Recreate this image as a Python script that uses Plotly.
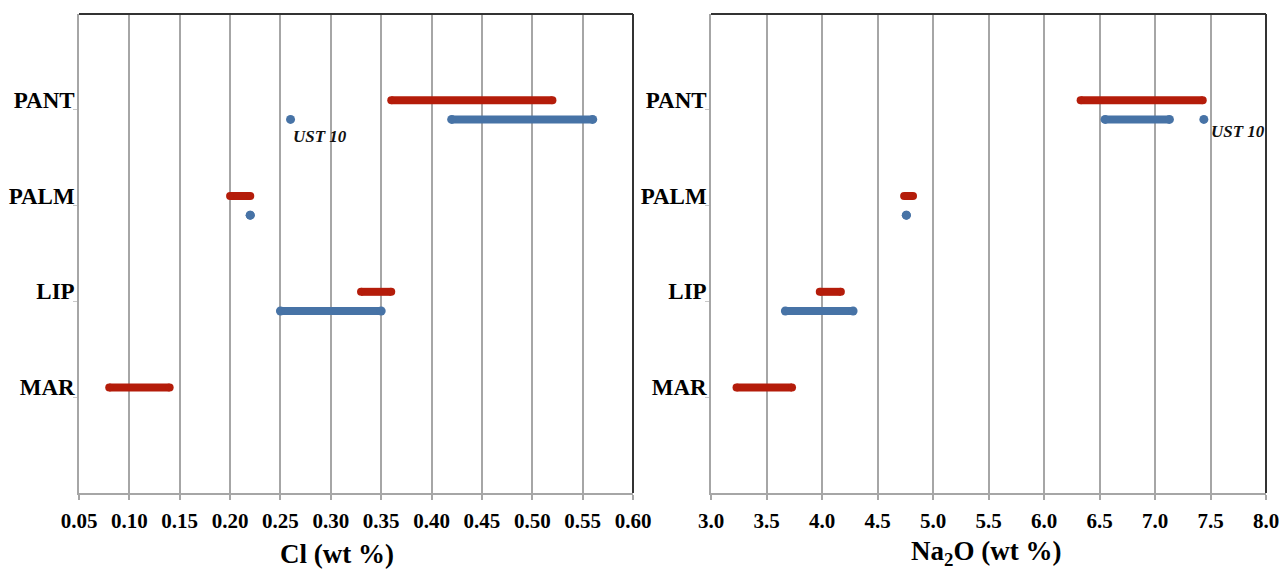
import plotly.graph_objects as go

W, H = 1279, 570

categories = ["MAR", "LIP", "PALM", "PANT"]
cat_pos = [1, 2, 3, 4]

# Cl (wt %) ranges
cl_red_lo = [0.08, 0.33, 0.20, 0.36]
cl_red_hi = [0.14, 0.36, 0.22, 0.52]
cl_blue_lo = [None, 0.25, 0.22, 0.42]
cl_blue_hi = [None, 0.35, 0.22, 0.56]
cl_ust10 = 0.26

# Na2O (wt %) ranges
na_red_lo = [3.23, 3.98, 4.74, 6.33]
na_red_hi = [3.73, 4.17, 4.82, 7.43]
na_blue_lo = [None, 3.67, 4.76, 6.55]
na_blue_hi = [None, 4.28, 4.76, 7.13]
na_ust10 = 7.44

cl_ticks = [0.05, 0.10, 0.15, 0.20, 0.25, 0.30, 0.35, 0.40, 0.45, 0.50, 0.55, 0.60]
na_ticks = [3.0, 3.5, 4.0, 4.5, 5.0, 5.5, 6.0, 6.5, 7.0, 7.5, 8.0]

RED = "#B41C0A"
BLUE = "#4773A6"
GRID = "#A6A6A6"
FONT = "Liberation Serif"
RED_OFF, BLUE_OFF = 0.1, -0.1
LW = 8

def segs(lo, hi, off):
    xs, ys = [], []
    for l, h, p in zip(lo, hi, cat_pos):
        if l is None:
            continue
        xs += [l, h, None]
        ys += [p + off, p + off, None]
    return xs, ys

fig = go.Figure()

for (rlo, rhi, blo, bhi, ust, xa, ya) in [
    (cl_red_lo, cl_red_hi, cl_blue_lo, cl_blue_hi, cl_ust10, "x", "y"),
    (na_red_lo, na_red_hi, na_blue_lo, na_blue_hi, na_ust10, "x2", "y2"),
]:
    bx, by = segs(blo, bhi, BLUE_OFF)
    fig.add_trace(go.Scatter(x=bx, y=by, mode="lines+markers", xaxis=xa, yaxis=ya,
                             line=dict(color=BLUE, width=LW),
                             marker=dict(color=BLUE, size=LW + 1),
                             showlegend=False, hoverinfo="skip"))
    rx, ry = segs(rlo, rhi, RED_OFF)
    fig.add_trace(go.Scatter(x=rx, y=ry, mode="lines+markers", xaxis=xa, yaxis=ya,
                             line=dict(color=RED, width=LW),
                             marker=dict(color=RED, size=LW),
                             showlegend=False, hoverinfo="skip"))
    fig.add_trace(go.Scatter(x=[ust], y=[cat_pos[3] + BLUE_OFF], mode="markers",
                             xaxis=xa, yaxis=ya,
                             marker=dict(color=BLUE, size=LW + 1),
                             showlegend=False, hoverinfo="skip"))

ydom = [(H - 493) / H, (H - 14) / H]
xdom1 = [79 / W, 633 / W]
xdom2 = [711 / W, 1266 / W]

tickfont = dict(family=FONT, size=21, color="black", weight="bold")
catfont = dict(family=FONT, size=23, color="black", weight="bold")

common_x = dict(showgrid=True, gridcolor=GRID, gridwidth=1.5, showline=True,
                linecolor=GRID, linewidth=1.5, ticks="outside", ticklen=5,
                tickcolor=GRID, tickwidth=1.5, tickfont=tickfont, zeroline=False,
                automargin=False, fixedrange=True, ticklabelstandoff=3,
                ticklabeloverflow="allow")
common_y = dict(range=[0, 5], tickvals=cat_pos, ticktext=categories, showgrid=False,
                showline=True, linecolor=GRID, linewidth=1.5, ticks="outside",
                ticklen=4, tickcolor="#C8C8C8", tickwidth=1, tickfont=catfont,
                zeroline=False, automargin=False, fixedrange=True,
                ticklabelshift=-10, ticklabelstandoff=-6)

fig.update_layout(
    width=W, height=H,
    margin=dict(l=0, r=0, t=0, b=0),
    paper_bgcolor="white", plot_bgcolor="white",
    xaxis=dict(domain=xdom1, range=[0.05, 0.60], tickvals=cl_ticks,
               tickformat=".2f", anchor="y", **common_x),
    yaxis=dict(domain=ydom, anchor="x", **common_y),
    xaxis2=dict(domain=xdom2, range=[3.0, 8.0], tickvals=na_ticks,
                tickformat=".1f", anchor="y2", **common_x),
    yaxis2=dict(domain=ydom, anchor="x2", **common_y),
)

# dark top and right frame lines
for xr, yr in [("x domain", "y domain"), ("x2 domain", "y2 domain")]:
    fig.add_shape(type="line", xref=xr, yref=yr, x0=0, x1=1, y0=1, y1=1,
                  line=dict(color="#333333", width=2))
    fig.add_shape(type="line", xref=xr, yref=yr, x0=1, x1=1, y0=0, y1=1,
                  line=dict(color="#333333", width=2))

lblfont = dict(family=FONT, size=17, color="#111111", weight="bold", style="italic")
fig.add_annotation(x=cl_ust10, y=cat_pos[3] + BLUE_OFF, xref="x", yref="y",
                   text="UST 10", showarrow=False, xanchor="left", yanchor="middle",
                   xshift=0, yshift=-17, font=lblfont)
fig.add_annotation(x=na_ust10, y=cat_pos[3] + BLUE_OFF, xref="x2", yref="y2",
                   text="UST 10", showarrow=False, xanchor="left", yanchor="middle",
                   xshift=5, yshift=-12, font=lblfont)

titlefont = dict(family=FONT, size=27, color="black", weight="bold")
fig.add_annotation(x=337 / W, y=(H - 554) / H, xref="paper", yref="paper",
                   text="Cl (wt %)", showarrow=False, xanchor="center",
                   yanchor="middle", font=titlefont)
fig.add_annotation(x=986 / W, y=(H - 553) / H, xref="paper", yref="paper",
                   text="Na<sub>2</sub>O (wt %)", showarrow=False, xanchor="center",
                   yanchor="middle", font=titlefont)

fig.write_html("out.html")
